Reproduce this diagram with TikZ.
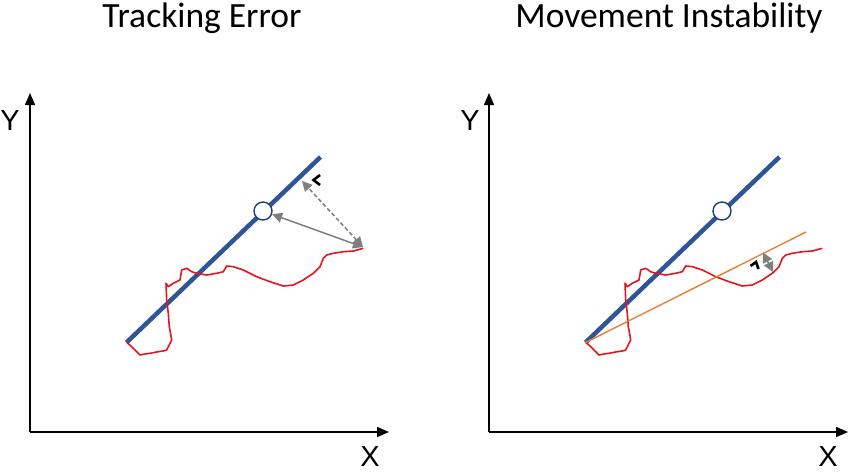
\documentclass[tikz,border=0pt]{standalone}
\usepackage{fontspec}
\setmainfont{Carlito}
\newfontfamily\axfont{Liberation Sans}
\usetikzlibrary{arrows.meta}
\definecolor{pptblue}{HTML}{2F5597}
\definecolor{circblue}{HTML}{1F3E78}
\definecolor{pptgray}{HTML}{7F7F7F}
\definecolor{pptorange}{HTML}{ED7D31}
\definecolor{tracered}{HTML}{E8141B}
\tikzset{
  axis/.style={line width=1.5pt,black,-{Triangle[length=12pt,width=10pt]}},
  axlabel/.style={font=\axfont\fontsize{29}{30}\selectfont,inner sep=0pt,anchor=base},
  title/.style={font=\fontsize{35.5}{37}\selectfont,inner sep=0pt,anchor=base},
  target/.style={line width=4.5pt,pptblue},
  marker/.style={circle,draw=circblue,line width=1.4pt,fill=white,minimum size=18pt,inner sep=0pt},
  trace/.style={tracered,line width=1.6pt,line join=round},
  errarrow/.style={pptgray,line width=1.5pt,{Triangle[length=10pt,width=10pt]}-{Triangle[length=10pt,width=10pt]}},
  fitline/.style={pptorange,line width=1.4pt},
  angmark/.style={black,line width=2.6pt,line join=miter}
}
\begin{document}
\begin{tikzpicture}[x=1pt,y=-1pt]
\useasboundingbox (0,0) rectangle (850,472);
% titles
\node[title] (t1) at (202,27) {Tracking Error};
\node[title] (t2) at (669,27) {Movement Instability};
% panels
\foreach \dx/\p in {0/L,459/R}{
  \begin{scope}[xshift=\dx pt]
    \coordinate (o\p) at (30,432);
    \coordinate (ytip\p) at (30,93);
    \coordinate (xtip\p) at (389,432);
    \draw[axis] (o\p) -- (ytip\p);
    \draw[axis] (o\p) -- (xtip\p);
    \coordinate (b0\p) at (126.5,342.5);
    \coordinate (b1\p) at (320.5,157);
    \draw[target] (b0\p) -- (b1\p);
    \node[marker] (c\p) at (263,211) {};
    \draw[trace] (126.7,342.3) -- (131.7,346.7) -- (136,351) -- (140,355) -- (145,354) -- (150,353.3) -- (158.3,351.7) -- (163,351) -- (166.7,350) -- (170,343.3) -- (171.7,340) -- (170.5,333) -- (169.3,326.7) -- (168.3,313.3) -- (166.7,300) -- (166,283.3) -- (168.3,286.7) -- (173.3,283.3) -- (180,280) -- (181.7,270) -- (186.7,268.3) -- (191.7,271.7) -- (196.7,273.3) -- (206.7,275) -- (216.7,273.3) -- (223.3,271.7) -- (226.7,266) -- (233.3,266.7) -- (243.3,270) -- (256.7,276.7) -- (270,281.7) -- (283.3,286) -- (293.3,285) -- (303.3,280) -- (313.3,273.3) -- (320,266.7) -- (323.3,258.3) -- (326.7,255) -- (333.3,253.3) -- (343.3,251.7) -- (353.3,251) -- (363.3,248.3);
  \end{scope}
}
\node[axlabel] (yL) at (10,130) {Y};
\node[axlabel] (xL) at (370,466) {X};
\node[axlabel] (yR) at (470,130) {Y};
\node[axlabel] (xR) at (828,466) {X};
% left: tracking error arrows
\coordinate (endL) at (363,247);
\coordinate (projL) at (302,181);
\draw[errarrow] (endL) -- (cL);
\draw[errarrow,dashed,dash pattern=on 4pt off 2.5pt] (endL) -- (projL);
\draw[angmark] (320,175) -- (313.5,180) -- (320,185);
% right: movement instability
\coordinate (fitEnd) at (806,232);
\draw[fitline] (b0R) -- (fitEnd);
\coordinate (onFit) at (763,252.5);
\coordinate (onTrace) at (773,272);
\draw[errarrow] (onFit) -- (onTrace);
\draw[angmark] (750.5,266) -- (756,262) -- (758.5,269);
\end{tikzpicture}
\end{document}
